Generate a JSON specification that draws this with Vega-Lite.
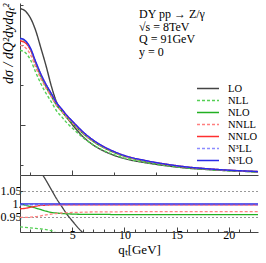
{
  "$schema": "https://vega.github.io/schema/vega-lite/v6.json",
  "padding": {"left": 0, "top": 2, "right": 4, "bottom": 2},
  "background": "white",
  "datasets": {
    "main": [
      {"qT": 0, "LO": 166.5, "NLL": 124.8, "NLO": 136.8, "NNLL": 129.7, "NNLO": 134.2, "N³LL": 136.3, "N³LO": 136.8},
      {"qT": 0.5, "LO": 164, "NLL": 122.4, "NLO": 133.8, "NNLL": 127.5, "NNLO": 132.2, "N³LL": 134.0, "N³LO": 134.5},
      {"qT": 1, "LO": 157, "NLL": 115.3, "NLO": 125.7, "NNLL": 120.5, "NNLO": 125.3, "N³LL": 126.5, "N³LO": 127},
      {"qT": 1.5, "LO": 144.5, "NLL": 102.8, "NLO": 111.7, "NNLL": 107.9, "NNLO": 112.5, "N³LL": 113.0, "N³LO": 113.5},
      {"qT": 2, "LO": 127, "NLL": 91.3, "NLO": 98.8, "NNLL": 96.4, "NNLO": 100.4, "N³LL": 100.6, "N³LO": 101},
      {"qT": 2.5, "LO": 109, "NLL": 81.5, "NLO": 88.0, "NNLL": 86.7, "NNLO": 90.0, "N³LL": 90.1, "N³LO": 90.5},
      {"qT": 3, "LO": 89, "NLL": 73.1, "NLO": 78.8, "NNLL": 78.3, "NNLO": 81.2, "N³LL": 81.2, "N³LO": 81.5},
      {"qT": 3.5, "LO": 73, "NLL": 64.2, "NLO": 69.8, "NNLL": 69.6, "NNLO": 72.0, "N³LL": 72.0, "N³LO": 72.3},
      {"qT": 4, "LO": 64.5, "NLL": 58.1, "NLO": 63.6, "NNLL": 63.7, "NNLO": 65.7, "N³LL": 65.7, "N³LO": 66},
      {"qT": 4.5, "LO": 57.3, "NLL": 52.0, "NLO": 57.2, "NNLL": 57.5, "NNLO": 59.3, "N³LL": 59.3, "N³LO": 59.5},
      {"qT": 5, "LO": 50.5, "NLL": 47.0, "NLO": 51.9, "NNLL": 52.2, "NNLO": 53.8, "N³LL": 53.8, "N³LO": 54},
      {"qT": 6, "LO": 38.7, "NLL": 37.6, "NLO": 41.8, "NNLL": 42.1, "NNLO": 43.3, "N³LL": 43.3, "N³LO": 43.5},
      {"qT": 7, "LO": 30.1, "NLL": 30.2, "NLO": 33.6, "NNLL": 33.9, "NNLO": 34.9, "N³LL": 34.9, "N³LO": 35},
      {"qT": 8, "LO": 24.1, "NLL": 24.6, "NLO": 27.4, "NNLL": 27.6, "NNLO": 28.4, "N³LL": 28.4, "N³LO": 28.5},
      {"qT": 9, "LO": 19.7, "NLL": 20.3, "NLO": 22.5, "NNLL": 22.8, "NNLO": 23.4, "N³LL": 23.4, "N³LO": 23.5},
      {"qT": 10, "LO": 16.4, "NLL": 16.9, "NLO": 18.7, "NNLL": 18.9, "NNLO": 19.4, "N³LL": 19.4, "N³LO": 19.5},
      {"qT": 12, "LO": 12.3, "NLL": 12.6, "NLO": 13.9, "NNLL": 14.1, "NNLO": 14.4, "N³LL": 14.4, "N³LO": 14.5},
      {"qT": 14, "LO": 9.2, "NLL": 9.4, "NLO": 10.4, "NNLL": 10.5, "NNLO": 10.8, "N³LL": 10.8, "N³LO": 10.8},
      {"qT": 16, "LO": 6.9, "NLL": 7.0, "NLO": 7.7, "NNLL": 7.8, "NNLO": 8.0, "N³LL": 8.0, "N³LO": 8.0},
      {"qT": 18, "LO": 5.4, "NLL": 5.5, "NLO": 5.9, "NNLL": 6.0, "NNLO": 6.2, "N³LL": 6.2, "N³LO": 6.2},
      {"qT": 20, "LO": 4.25, "NLL": 4.3, "NLO": 4.6, "NNLL": 4.7, "NNLO": 4.8, "N³LL": 4.8, "N³LO": 4.8},
      {"qT": 22, "LO": 3.4, "NLL": 3.4, "NLO": 3.6, "NNLL": 3.7, "NNLO": 3.8, "N³LL": 3.8, "N³LO": 3.8},
      {"qT": 22.8, "LO": 3.0, "NLL": 3.0, "NLO": 3.3, "NNLL": 3.3, "NNLO": 3.4, "N³LL": 3.4, "N³LO": 3.4}
    ],
    "ratio": [
      {"qT": 0, "LO": 1.22, "NLL": 0.912, "NLO": 1.0, "NNLL": 0.948, "NNLO": 0.981, "N³LL": 0.996, "N³LO": 1},
      {"qT": 0.5, "LO": 1.22, "NLL": 0.91, "NLO": 0.995, "NNLL": 0.948, "NNLO": 0.983, "N³LL": 0.996, "N³LO": 1},
      {"qT": 1, "LO": 1.21, "NLL": 0.908, "NLO": 0.99, "NNLL": 0.949, "NNLO": 0.987, "N³LL": 0.996, "N³LO": 1},
      {"qT": 1.5, "LO": 1.18, "NLL": 0.906, "NLO": 0.984, "NNLL": 0.951, "NNLO": 0.991, "N³LL": 0.996, "N³LO": 1},
      {"qT": 2, "LO": 1.125, "NLL": 0.904, "NLO": 0.978, "NNLL": 0.954, "NNLO": 0.994, "N³LL": 0.996, "N³LO": 1},
      {"qT": 2.5, "LO": 1.09, "NLL": 0.901, "NLO": 0.972, "NNLL": 0.958, "NNLO": 0.995, "N³LL": 0.996, "N³LO": 1},
      {"qT": 3, "LO": 1.055, "NLL": 0.897, "NLO": 0.967, "NNLL": 0.961, "NNLO": 0.996, "N³LL": 0.996, "N³LO": 1},
      {"qT": 3.5, "LO": 1.02, "NLL": 0.888, "NLO": 0.965, "NNLL": 0.963, "NNLO": 0.996, "N³LL": 0.996, "N³LO": 1},
      {"qT": 4, "LO": 0.99, "NLL": 0.88, "NLO": 0.963, "NNLL": 0.965, "NNLO": 0.996, "N³LL": 0.996, "N³LO": 1},
      {"qT": 4.5, "LO": 0.96, "NLL": 0.874, "NLO": 0.962, "NNLL": 0.966, "NNLO": 0.996, "N³LL": 0.996, "N³LO": 1},
      {"qT": 5, "LO": 0.935, "NLL": 0.87, "NLO": 0.961, "NNLL": 0.967, "NNLO": 0.996, "N³LL": 0.996, "N³LO": 1},
      {"qT": 6, "LO": 0.89, "NLL": 0.865, "NLO": 0.96, "NNLL": 0.968, "NNLO": 0.996, "N³LL": 0.996, "N³LO": 1},
      {"qT": 7, "LO": 0.86, "NLL": 0.862, "NLO": 0.96, "NNLL": 0.969, "NNLO": 0.996, "N³LL": 0.996, "N³LO": 1},
      {"qT": 8, "LO": 0.845, "NLL": 0.862, "NLO": 0.96, "NNLL": 0.969, "NNLO": 0.996, "N³LL": 0.996, "N³LO": 1},
      {"qT": 9, "LO": 0.84, "NLL": 0.864, "NLO": 0.959, "NNLL": 0.969, "NNLO": 0.996, "N³LL": 0.996, "N³LO": 1},
      {"qT": 10, "LO": 0.84, "NLL": 0.866, "NLO": 0.959, "NNLL": 0.97, "NNLO": 0.996, "N³LL": 0.996, "N³LO": 1},
      {"qT": 12, "LO": 0.845, "NLL": 0.87, "NLO": 0.959, "NNLL": 0.97, "NNLO": 0.996, "N³LL": 0.996, "N³LO": 1},
      {"qT": 14, "LO": 0.855, "NLL": 0.873, "NLO": 0.959, "NNLL": 0.97, "NNLO": 0.996, "N³LL": 0.996, "N³LO": 1},
      {"qT": 16, "LO": 0.862, "NLL": 0.876, "NLO": 0.959, "NNLL": 0.97, "NNLO": 0.996, "N³LL": 0.996, "N³LO": 1},
      {"qT": 18, "LO": 0.868, "NLL": 0.878, "NLO": 0.959, "NNLL": 0.97, "NNLO": 0.996, "N³LL": 0.996, "N³LO": 1},
      {"qT": 20, "LO": 0.873, "NLL": 0.88, "NLO": 0.959, "NNLL": 0.97, "NNLO": 0.996, "N³LL": 0.996, "N³LO": 1},
      {"qT": 22, "LO": 0.877, "NLL": 0.882, "NLO": 0.959, "NNLL": 0.97, "NNLO": 0.996, "N³LL": 0.996, "N³LO": 1},
      {"qT": 22.8, "LO": 0.878, "NLL": 0.882, "NLO": 0.959, "NNLL": 0.97, "NNLO": 0.996, "N³LL": 0.996, "N³LO": 1}
    ],
    "notes": [
      {"qT": 11.4, "v": 161, "t": "DY pp → Z/γ"},
      {"qT": 11.4, "v": 148.5, "t": "√s = 8TeV"},
      {"qT": 11.4, "v": 136, "t": "Q = 91GeV"},
      {"qT": 11.4, "v": 123.5, "t": "y = 0"}
    ]
  },
  "vconcat": [
    {
      "width": 238,
      "height": 172,
      "layer": [
        {
          "data": {"name": "main"},
          "transform": [{"fold": ["LO", "NLL", "NLO", "NNLL", "NNLO", "N³LL", "N³LO"], "as": ["order", "value"]}],
          "mark": {"type": "line", "clip": true, "strokeWidth": 1.4, "interpolate": "monotone"},
          "encoding": {
            "x": {"field": "qT", "type": "quantitative", "scale": {"domain": [0, 22.8], "nice": false, "zero": false},
              "axis": {"title": null, "labels": false, "values": [1,2,3,4,5,6,7,8,9,10,11,12,13,14,15,16,17,18,19,20,21,22],
                "tickSize": {"condition": {"test": "datum.value % 5 === 0", "value": -5}, "value": -3}}},
            "y": {"field": "value", "type": "quantitative", "scale": {"domain": [0, 172], "nice": false},
              "axis": {"title": "dσ / dQ²dydqₜ²", "labels": false, "titleAnchor": "end", "titleFontStyle": "italic", "titleFontSize": 14, "titlePadding": 4,
                "values": [10,20,30,40,50,60,70,80,90,100,110,120,130,140,150,160,170],
                "tickSize": {"condition": {"test": "datum.value % 50 === 0", "value": -5}, "value": -3}}},
            "color": {"field": "order", "type": "nominal",
              "scale": {"domain": ["LO", "NLL", "NLO", "NNLL", "NNLO", "N³LL", "N³LO"], "range": ["#444444", "#55d055", "#22b022", "#ff7f7f", "#ff3030", "#8c8cff", "#2a2ae8"]},
              "legend": {"orient": "none", "legendX": 176, "legendY": 79.5, "title": null}},
            "strokeDash": {"field": "order", "type": "nominal",
              "scale": {"domain": ["LO", "NLL", "NLO", "NNLL", "NNLO", "N³LL", "N³LO"], "range": [[1,0],[3,2],[1,0],[3,2],[1,0],[3,2],[1,0]]},
              "legend": {"orient": "none", "legendX": 176, "legendY": 79.5, "title": null}}
          }
        },
        {
          "data": {"name": "notes"},
          "mark": {"type": "text", "align": "left", "baseline": "middle", "font": "Liberation Serif", "fontSize": 12, "color": "black"},
          "encoding": {
            "x": {"field": "qT", "type": "quantitative"},
            "y": {"field": "v", "type": "quantitative"},
            "text": {"field": "t"}
          }
        }
      ]
    },
    {
      "width": 238,
      "height": 57,
      "data": {"name": "ratio"},
      "transform": [{"fold": ["LO", "NLL", "NLO", "NNLL", "NNLO", "N³LL", "N³LO"], "as": ["order", "value"]}],
      "mark": {"type": "line", "clip": true, "strokeWidth": 1.3, "interpolate": "monotone"},
      "encoding": {
        "x": {"field": "qT", "type": "quantitative", "scale": {"domain": [0, 22.8], "nice": false, "zero": false},
          "axis": {"title": "qₜ[GeV]", "titleFontSize": 13, "titlePadding": 1, "labelOverlap": false, "labelFlush": false,
            "values": [1,2,3,4,5,6,7,8,9,10,11,12,13,14,15,16,17,18,19,20,21,22],
            "labelExpr": "datum.value % 5 === 0 ? datum.value : ''",
            "tickSize": {"condition": {"test": "datum.value % 5 === 0", "value": -5}, "value": -3}}},
        "y": {"field": "value", "type": "quantitative", "scale": {"domain": [0.892, 1.111], "nice": false, "zero": false},
          "axis": {"title": null, "values": [0.95, 1, 1.05], "labelExpr": "datum.value == 1 ? '1.' : format(datum.value, '.2f')",
            "grid": true, "gridDash": [1, 3], "gridColor": "#333", "gridWidth": 1,
            "gridOpacity": {"condition": {"test": "datum.value == 1", "value": 0}, "value": 1},
            "tickSize": -3, "labelPadding": 2}},
        "color": {"field": "order", "type": "nominal",
          "scale": {"domain": ["LO", "NLL", "NLO", "NNLL", "NNLO", "N³LL", "N³LO"], "range": ["#444444", "#55d055", "#22b022", "#ff7f7f", "#ff3030", "#8c8cff", "#2a2ae8"]},
          "legend": null},
        "strokeDash": {"field": "order", "type": "nominal",
          "scale": {"domain": ["LO", "NLL", "NLO", "NNLL", "NNLO", "N³LL", "N³LO"], "range": [[1,0],[3,2],[1,0],[3,2],[1,0],[3,2],[1,0]]},
          "legend": null}
      }
    }
  ],
  "spacing": 0,
  "bounds": "flush",
  "resolve": {"legend": {"color": "independent", "strokeDash": "independent"}},
  "config": {
    "view": {"stroke": null},
    "axis": {"labelFont": "Liberation Serif", "titleFont": "Liberation Serif", "labelFontSize": 12, "labelColor": "black", "titleColor": "black",
      "titleFontWeight": "normal", "domainColor": "#444", "tickColor": "#444", "grid": false},
    "legend": {"labelFont": "Liberation Serif", "labelFontSize": 10.5, "labelColor": "black", "symbolType": "M-1,0H3.4", "symbolSize": 100, "symbolStrokeWidth": 1.5, "rowPadding": 0, "labelOffset": 20, "padding": 0}
  }
}
